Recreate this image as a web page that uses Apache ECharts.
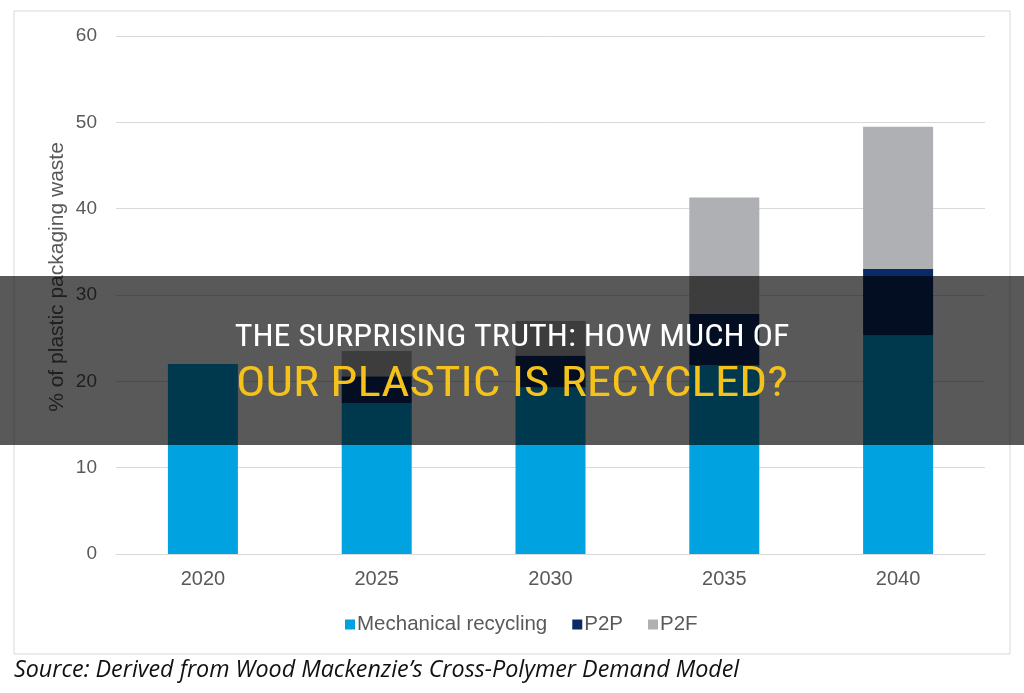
<!DOCTYPE html>
<html><head><meta charset="utf-8">
<script src="https://cdn.jsdelivr.net/npm/echarts@6/dist/echarts.min.js"></script>
<style>html,body{margin:0;padding:0;background:#fff}#c{width:1024px;height:693px}</style>
</head><body><div id="c"></div>
<script>
const categories = ['2020', '2025', '2030', '2035', '2040'];
const mechanical = [22.0, 17.5, 19.3, 21.9, 25.3];
const p2p = [0.0, 3.1, 3.7, 5.9, 7.7];
const p2f = [0.0, 2.9, 4.0, 13.5, 16.5];
const yTicks = [0, 10, 20, 30, 40, 50, 60];
const yAxisTitle = '% of plastic packaging waste';
const sourceText = 'Source: Derived from Wood Mackenzie\u2019s Cross-Polymer Demand Model';
const headline1 = 'THE SURPRISING TRUTH: HOW MUCH OF';
const headline2 = 'OUR PLASTIC IS RECYCLED?';

const chart = echarts.init(document.getElementById('c'), null, {renderer: 'canvas'});
const txt = '#595959';
chart.setOption({
  animation: false,
  backgroundColor: '#ffffff',
  grid: {left: 116, right: 39, top: 36, bottom: 139},
  legend: {
    bottom: 53, left: 340, itemWidth: 10, itemHeight: 10, itemGap: 25,
    icon: 'rect',
    textStyle: {color: txt, fontSize: 20.5, fontFamily: 'Liberation Sans, Arial', padding: [0,0,0,-3]},
    data: ['Mechanical recycling', 'P2P', 'P2F']
  },
  xAxis: {
    type: 'category', data: categories,
    axisLine: {lineStyle: {color: '#d9d9d9', width: 1}},
    axisTick: {show: false},
    axisLabel: {color: txt, fontSize: 20, fontFamily: 'Liberation Sans, Arial', margin: 15}
  },
  yAxis: {
    type: 'value', min: yTicks[0], max: yTicks[yTicks.length-1], interval: 10,
    axisLine: {show: false}, axisTick: {show: false},
    splitLine: {lineStyle: {color: '#d9d9d9', width: 1}},
    axisLabel: {color: txt, fontSize: 19, fontFamily: 'Liberation Sans, Arial', margin: 19}
  },
  series: [
    {name: 'Mechanical recycling', type: 'bar', stack: 'a', data: mechanical, barWidth: 70, itemStyle: {color: '#00a3e0'}},
    {name: 'P2P', type: 'bar', stack: 'a', data: p2p, barWidth: 70, itemStyle: {color: '#0a2a66'}},
    {name: 'P2F', type: 'bar', stack: 'a', data: p2f, barWidth: 70, itemStyle: {color: '#aeb0b3'}}
  ],
  graphic: [
    {type: 'rect', z: 0, silent: true, shape: {x: 14, y: 11, width: 996, height: 643},
      style: {fill: null, stroke: '#d9d9d9', lineWidth: 1}},
    {type: 'text', x: 57, y: 277, rotation: Math.PI/2, z: 5,
      style: {text: yAxisTitle, fill: txt, fontSize: 21, fontFamily: 'Liberation Sans, Arial', textAlign: 'center', textVerticalAlign: 'middle'}},
    {type: 'text', left: 14, top: 659, z: 5,
      style: {text: sourceText, fill: '#111', fontSize: 23.3, fontStyle: 'italic', fontFamily: 'Open Sans, DejaVu Sans'}},
    {type: 'rect', z: 100, shape: {x: 0, y: 276, width: 1024, height: 169},
      style: {fill: 'rgba(0,0,0,0.65)'}},
    {type: 'text', x: 512, y: 338, z: 101, scaleX: 1.1,
      style: {text: headline1, fill: '#ffffff', fontSize: 31, fontFamily: 'Liberation Sans Narrow, Roboto Condensed, Roboto', textAlign: 'center', textVerticalAlign: 'middle'}},
    {type: 'text', x: 512, y: 385, z: 101, scaleX: 1.14,
      style: {text: headline2, fill: '#f5c21b', fontSize: 43, fontFamily: 'Liberation Sans Narrow, Roboto Condensed, Roboto', textAlign: 'center', textVerticalAlign: 'middle'}}
  ]
});
</script></body></html>
